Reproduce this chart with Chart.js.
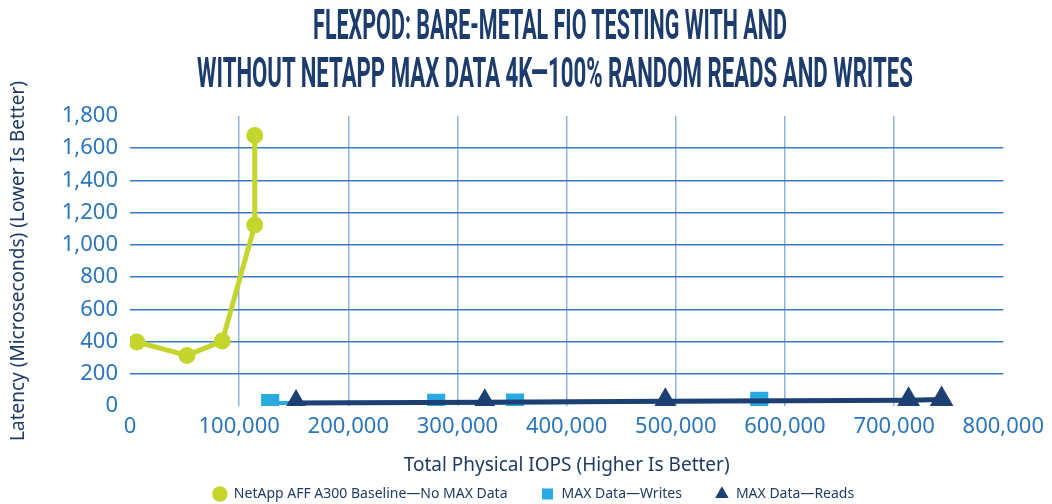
<!DOCTYPE html>
<html lang="en">
<head>
    <meta charset="UTF-8">
    <title>FlexPod Bare-Metal FIO Testing</title>
    <script src="https://cdn.jsdelivr.net/npm/chart.js"></script>
    <style>
        html, body { margin: 0; padding: 0; background: #fff; }
        #wrap { position: relative; width: 1052px; height: 504px; overflow: hidden; }
        #chart { position: absolute; left: 0; top: 0; }
        .title-line {
            position: absolute; white-space: nowrap;
            font-family: Roboto, "DejaVu Sans", sans-serif; font-weight: 700;
            font-size: 42px; line-height: 42px; color: #1d3c6e;
            transform-origin: center;
        }
    </style>
</head>
<body>
    <div id="wrap">
        <canvas id="chart" width="1052" height="504"></canvas>
        <div class="title-line" style="top:4px;" data-cx="550" data-w="474">FLEXPOD: BARE-METAL FIO TESTING WITH AND</div>
        <div class="title-line" style="top:52px;" data-cx="555" data-w="716">WITHOUT NETAPP MAX DATA 4K—100% RANDOM READS AND WRITES</div>
    </div>

    <script>
        // squeeze the title lines to the condensed look of the original
        document.querySelectorAll('.title-line').forEach(el => {
            const s = parseFloat(el.dataset.w) / el.offsetWidth;
            el.style.left = el.dataset.cx + 'px';
            el.style.transform = 'translateX(-50%) scaleX(' + s + ')';
        });

        // values
        const baselineIops = [6300, 52200, 84500, 114300, 114300];
        const baselineLatency = [397, 314, 403, 1123, 1679];
        const writesIops = [128400, 280500, 352700, 576400];
        const writesLatency = [18, 20, 22, 32];
        const readsIops = [152100, 325000, 490400, 713200, 743500];
        const readsLatency = [18, 24, 30, 36, 40];

        const xTicks = [0, 100000, 200000, 300000, 400000, 500000, 600000, 700000, 800000];
        const yTicks = [0, 200, 400, 600, 800, 1000, 1200, 1400, 1600, 1800];

        const toPoints = (xs, ys) => xs.map((x, i) => ({ x: x, y: ys[i] }));

        const tickColor = '#2a75bb';
        const textColor = '#1f3b63';

        // the legend keeps a small box so the plot keeps its height; move it down and right afterwards
        const legendPlace = {
            id: 'legendPlace',
            afterLayout(chart) {
                const lg = chart.legend;
                lg.top = 454;
                lg.bottom = 504;
                lg.left += 29;
                lg.right += 29;
            },
        };

        new Chart(document.getElementById('chart'), {
            type: 'line',
            data: {
                datasets: [{
                    label: 'NetApp AFF A300 Baseline—No MAX Data',
                    data: toPoints(baselineIops, baselineLatency),
                    borderColor: '#c4d52d',
                    backgroundColor: '#c4d52d',
                    borderWidth: 5,
                    pointStyle: 'circle',
                    pointRadius: 6,
                    order: 0,
                }, {
                    label: 'MAX Data—Writes',
                    data: toPoints(writesIops, writesLatency),
                    borderColor: '#29abe2',
                    backgroundColor: '#29abe2',
                    borderWidth: 4,
                    pointStyle: 'rect',
                    pointRadius: 10,
                    order: 2,
                }, {
                    label: 'MAX Data—Reads',
                    data: toPoints(readsIops, readsLatency),
                    borderColor: '#1c3f74',
                    backgroundColor: '#1c3f74',
                    borderWidth: 5,
                    pointStyle: 'triangle',
                    pointRadius: 9,
                    order: 1,
                }],
            },
            options: {
                responsive: false,
                animation: false,
                layout: { padding: { top: 116, left: 4, right: 47, bottom: 0 } },
                plugins: {
                    tooltip: { enabled: false },
                    legend: {
                        position: 'bottom',
                        maxHeight: 27,
                        labels: {
                            usePointStyle: true,
                            boxHeight: 11,
                            padding: 33,
                            color: textColor,
                            font: { family: 'Noto Sans', size: 14 },
                            sort: (a, b) => a.datasetIndex - b.datasetIndex,
                            generateLabels: chart => Chart.defaults.plugins.legend.labels.generateLabels(chart)
                                .map(item => Object.assign(item, { lineWidth: 0 })),
                        },
                    },
                },
                scales: {
                    x: {
                        type: 'linear',
                        min: 0,
                        max: 800000,
                        afterBuildTicks: axis => { axis.ticks = xTicks.map(v => ({ value: v })); },
                        afterFit: axis => { axis.height = 71; },
                        border: { display: false },
                        grid: {
                            drawTicks: false,
                            lineWidth: 1.5,
                            color: ctx => (ctx.tick && (ctx.tick.value === 0 || ctx.tick.value === 800000)) ? 'rgba(0,0,0,0)' : '#8db3de',
                        },
                        ticks: {
                            padding: 8,
                            autoSkip: false,
                            color: tickColor,
                            font: { family: 'Noto Sans', size: 22 },
                            maxRotation: 0,
                            callback: v => v.toLocaleString('en-US'),
                        },
                        title: {
                            display: true,
                            text: 'Total Physical IOPS (Higher Is Better)',
                            color: textColor,
                            padding: 0,
                            font: { family: 'Noto Sans', size: 19 },
                        },
                    },
                    y: {
                        min: 0,
                        max: 1800,
                        afterBuildTicks: axis => { axis.ticks = yTicks.map(v => ({ value: v })); },
                        afterFit: axis => { axis.width = 126; },
                        border: { display: false },
                        grid: {
                            drawTicks: false,
                            lineWidth: 1.5,
                            color: ctx => (ctx.tick && (ctx.tick.value === 0 || ctx.tick.value === 1800)) ? 'rgba(0,0,0,0)' : '#3a7bbf',
                        },
                        ticks: {
                            padding: 12,
                            autoSkip: false,
                            color: tickColor,
                            font: { family: 'Noto Sans', size: 22 },
                            callback: v => v.toLocaleString('en-US'),
                        },
                        title: {
                            display: true,
                            text: 'Latency (Microseconds) (Lower Is Better)',
                            color: textColor,
                            padding: { top: 3, bottom: 0 },
                            font: { family: 'Noto Sans', size: 19 },
                        },
                    },
                },
            },
            plugins: [legendPlace],
        });
    </script>
</body>
</html>
